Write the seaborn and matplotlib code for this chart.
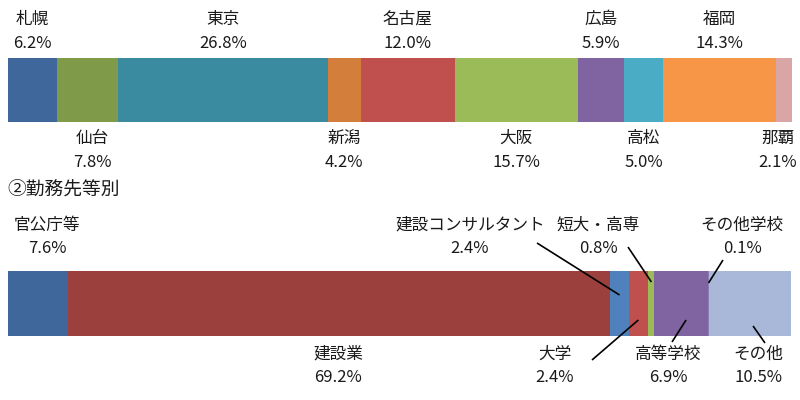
import numpy as np
import pandas as pd
import matplotlib
matplotlib.use("Agg")
import matplotlib.pyplot as plt
import seaborn as sns

# -------------------
# Data
# -------------------
city_names = ["札幌", "仙台", "東京", "新潟", "名古屋", "大阪", "広島", "高松", "福岡", "那覇"]
city_values = [6.2, 7.8, 26.8, 4.2, 12.0, 15.7, 5.9, 5.0, 14.3, 2.1]
city_colors = ["#3f679c", "#7f9a48", "#3a8aa0", "#d37e3a", "#c0504d",
               "#9bbb59", "#8064a2", "#4bacc6", "#f79646", "#d9a6a5"]

work_names = ["官公庁等", "建設業", "建設コンサルタント", "大学", "短大・高専",
              "高等学校", "その他学校", "その他"]
work_values = [7.6, 69.2, 2.4, 2.4, 0.8, 6.9, 0.1, 10.5]
work_colors = ["#3f679c", "#9b403c", "#4f81bd", "#c0504d", "#9bbb59",
               "#8064a2", "#8a7fb0", "#a9b8d8"]

section_title = "②勤務先等別"

# -------------------
# Layout helpers (pixels -> data)
# -------------------
PX_X = 7.84      # pixels per percent
PX_Y = 213.5     # pixels per bar row
X0 = 8           # left edge of bars (px)
Y0 = 90          # centre of first bar (px)


def dx(px):
    return px / PX_X


def dy(px):
    return px / PX_Y


def px2x(px):
    return (px - X0) / PX_X


sns.set_theme(style="white")
plt.rcParams["font.family"] = ["Noto Sans CJK JP", "DejaVu Sans"]

fig = plt.figure(figsize=(8, 4), dpi=100)
ax = fig.add_axes([0, 0, 1, 1])

rows = ["city", "work"]


def draw_stack(row, values, colors):
    cum = np.cumsum(values)
    # draw from the longest cumulative bar down so each segment shows
    for i in range(len(values) - 1, -1, -1):
        df = pd.DataFrame({"row": [row], "cum": [cum[i]]})
        sns.barplot(data=df, x="cum", y="row", order=rows, orient="h",
                    color=colors[i], saturation=1, width=0.30,
                    linewidth=0, errorbar=None, ax=ax)
    return cum - np.array(values) / 2


city_mid = draw_stack("city", city_values, city_colors)
work_mid = draw_stack("work", work_values, work_colors)

txt = dict(fontsize=12, color="#1a1a1a", ha="center", va="center")

# -------------------
# City labels, alternating above / below
# -------------------
city_nudge = {"仙台": 5, "那覇": -6}
for i, (name, val) in enumerate(zip(city_names, city_values)):
    x = city_mid[i] + dx(city_nudge.get(name, 0))
    if i % 2 == 0:
        ax.text(x, dy(-71), name, **txt)
        ax.text(x, dy(-47), f"{val:.1f}%", **txt)
    else:
        ax.text(x, dy(48), name, **txt)
        ax.text(x, dy(72), f"{val:.1f}%", **txt)

# -------------------
# Work labels: (side, label x px, line start px, line end offset px)
# -------------------
work_layout = {
    "官公庁等": ("up", 47, None, None),
    "建設業": ("down", 338, None, None),
    "建設コンサルタント": ("up", 470, (537, 243), (0, -8.5)),
    "大学": ("down", 555, (592, 360), (0, 16.5)),
    "短大・高専": ("up", 598, (628, 247), (0.5, -21.5)),
    "高等学校": ("down", 668, (672, 342), (5, 16.5)),
    "その他学校": ("up", 742, (723, 260), (0, -20.5)),
    "その他": ("down", 758, (765, 343), (3, 22.5)),
}

yb = 1.0
for i, (name, val) in enumerate(zip(work_names, work_values)):
    side, lx, start, end = work_layout[name]
    x = px2x(lx)
    if side == "up":
        ax.text(x, yb + dy(-78.5), name, **txt)
        ax.text(x, yb + dy(-55.5), f"{val:.1f}%", **txt)
    else:
        ax.text(x, yb + dy(50.5), name, **txt)
        ax.text(x, yb + dy(73.5), f"{val:.1f}%", **txt)
    if start is not None:
        ex = work_mid[i] + dx(end[0])
        ey = yb + dy(end[1])
        ax.plot([px2x(start[0]), ex], [dy(start[1] - Y0), ey],
                color="black", lw=1.2, solid_capstyle="butt")

ax.text(px2x(7), dy(190 - Y0), section_title, fontsize=13.5,
        color="#1a1a1a", ha="left", va="center")

ax.set_xlim(-X0 / PX_X, (800 - X0) / PX_X)
ax.set_ylim(dy(400 - Y0), dy(-Y0))
ax.axis("off")

fig.savefig("out.png", dpi=100)
plt.close(fig)
